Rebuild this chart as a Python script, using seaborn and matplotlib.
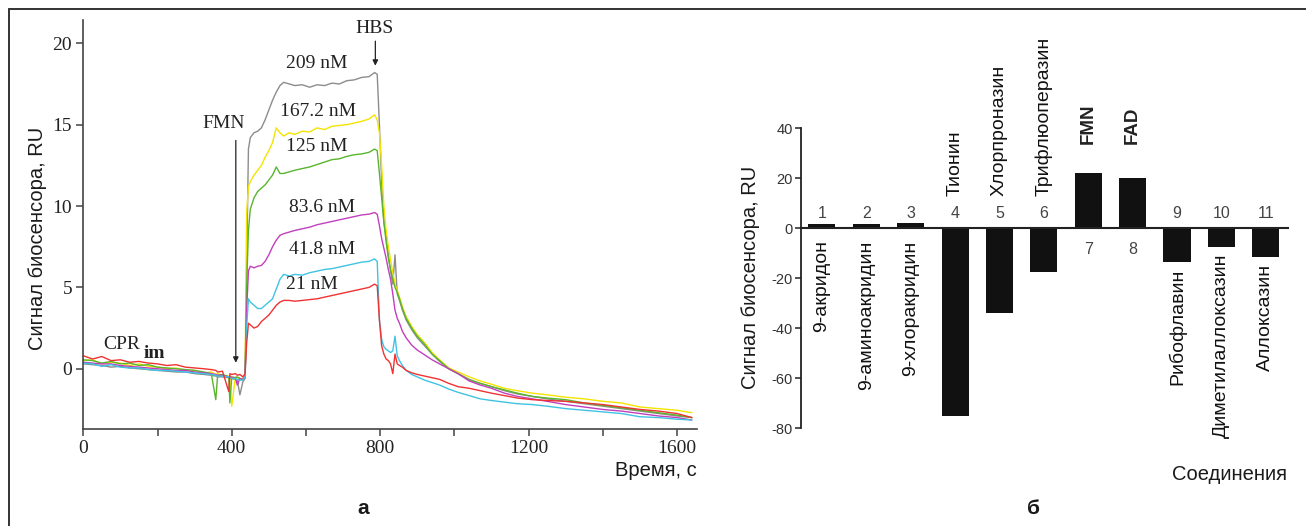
import matplotlib
matplotlib.use("Agg")
import matplotlib.pyplot as plt
import numpy as np
import pandas as pd
import seaborn as sns
from matplotlib.ticker import FixedLocator, NullFormatter
from matplotlib.lines import Line2D

# ---------------- data: panel a (sensorgrams) ----------------
time_s = [0, 25, 50, 75, 100, 125, 150, 175, 200, 225, 250, 275, 300, 325, 345, 357, 362, 375, 392, 395,
          400, 410, 415, 422, 430, 436,
          440, 445, 450, 460, 470, 480, 490, 500, 510, 520, 530, 540, 555, 570, 590, 610, 630, 650, 670, 690,
          710, 730, 750, 770, 785, 792,
          798, 804, 810, 816, 822, 828, 834, 840, 846, 852, 860, 870, 885, 900, 920, 940, 960, 985, 1010, 1040,
          1070, 1100, 1135, 1170, 1210, 1250, 1300, 1350, 1400, 1450, 1500, 1550, 1600, 1640]

ru_209nM = [0.3, 0.25, 0.2, 0.1, 0.15, 0.05, 0.0, -0.05, -0.1, -0.15, -0.2, -0.2, -0.3, -0.35, -0.4, -0.45, -0.5, -0.5, -0.55, -0.6,
            -0.6, -0.65, -0.7, -1.6, -0.8, -0.6,
            6.0, 13.5, 14.2, 14.5, 14.6, 14.8, 15.3, 15.9, 16.5, 17.0, 17.4, 17.6, 17.5, 17.4, 17.45, 17.3, 17.45, 17.4, 17.55, 17.5,
            17.7, 17.75, 17.9, 17.95, 18.2, 18.1,
            15.0, 11.5, 9.0, 8.2, 7.0, 6.0, 5.2, 7.0, 4.6, 4.2, 3.6, 3.0, 2.4, 1.9, 1.4, 0.9, 0.45, 0.0, -0.3, -0.65,
            -0.9, -1.1, -1.35, -1.55, -1.7, -1.85, -2.0, -2.15, -2.3, -2.45, -2.6, -2.75, -2.9, -3.0]

ru_167nM = [0.5, 0.55, 0.3, 0.4, 0.35, 0.2, 0.3, 0.15, 0.1, 0.0, 0.05, -0.1, -0.1, -0.25, -0.2, -0.35, -0.3, -0.4, -0.45, -0.6,
            -2.3, -0.5, -0.55, -0.6, -0.6, -0.4,
            9.5, 11.2, 11.5, 11.9, 12.2, 12.5, 13.0, 13.4, 13.9, 14.8, 14.5, 14.3, 14.5, 14.4, 14.6, 14.55, 14.8, 14.7, 14.9, 14.95,
            15.0, 15.1, 15.2, 15.35, 15.6, 15.3,
            14.5, 12.5, 10.0, 8.5, 7.5, 6.7, 5.9, 5.2, 4.8, 4.4, 3.8, 3.2, 2.6, 2.1, 1.6, 1.0, 0.55, 0.05, -0.2, -0.5,
            -0.75, -0.95, -1.2, -1.35, -1.5, -1.6, -1.75, -1.85, -2.0, -2.1, -2.35, -2.45, -2.55, -2.7]

ru_125nM = [0.55, 0.5, 0.35, 0.45, 0.3, 0.35, 0.2, 0.25, 0.1, 0.05, 0.0, -0.05, -0.1, -0.2, -0.3, -1.9, -0.4, -0.35, -0.5, -2.1,
            -0.5, -0.55, -0.5, -0.6, -0.65, -0.5,
            5.0, 8.5, 9.8, 10.5, 10.9, 11.1, 11.3, 11.6, 11.9, 12.4, 12.0, 12.0, 12.1, 12.2, 12.3, 12.4, 12.55, 12.7, 12.85, 12.9,
            13.05, 13.15, 13.2, 13.3, 13.5, 13.4,
            12.0, 10.5, 9.0, 7.8, 6.8, 6.1, 5.5, 5.0, 4.7, 4.3, 3.7, 3.1, 2.5, 2.0, 1.5, 0.9, 0.5, 0.0, -0.3, -0.7,
            -0.9, -1.1, -1.3, -1.5, -1.7, -1.8, -1.9, -2.1, -2.25, -2.4, -2.55, -2.7, -2.85, -3.0]

ru_83nM = [0.4, 0.35, 0.3, 0.3, 0.2, 0.15, 0.1, 0.05, 0.0, -0.05, -0.1, -0.1, -0.2, -0.25, -0.3, -0.35, -0.4, -0.4, -0.5, -0.45,
           -0.55, -0.6, -1.0, -0.6, -0.65, -0.5,
           3.5, 6.0, 6.3, 6.2, 6.3, 6.35, 6.6, 7.0, 7.5, 7.9, 8.2, 8.3, 8.4, 8.5, 8.6, 8.7, 8.85, 8.95, 9.05, 9.15,
           9.25, 9.35, 9.45, 9.5, 9.6, 9.5,
           8.8, 8.0, 7.4, 6.8, 6.1, 5.5, 4.6, 3.6, 3.1, 2.8, 2.3, 1.9, 1.45, 1.15, 0.85, 0.55, 0.3, 0.0, -0.3, -0.75,
           -1.0, -1.2, -1.5, -1.7, -1.85, -2.0, -2.2, -2.35, -2.5, -2.6, -2.75, -2.9, -3.0, -3.15]

ru_41nM = [0.35, 0.3, 0.15, 0.25, 0.1, 0.05, 0.05, -0.05, -0.1, -0.1, -0.15, -0.2, -0.25, -0.3, -0.35, -0.4, -0.45, -0.45, -0.5, -0.55,
           -0.6, -0.6, -0.65, -0.7, -0.7, -0.5,
           2.5, 4.3, 4.1, 3.9, 3.7, 3.7, 3.9, 4.1, 4.3, 4.9, 5.5, 5.8, 5.7, 5.8, 5.75, 5.9, 6.0, 6.1, 6.15, 6.25,
           6.35, 6.45, 6.55, 6.6, 6.75, 6.6,
           3.0, 1.8, 1.35, 1.2, 1.1, 1.0, 1.1, 2.0, 0.8, 0.5, 0.2, -0.1, -0.35, -0.5, -0.7, -0.85, -1.0, -1.25, -1.45, -1.65,
           -1.85, -1.95, -2.05, -2.15, -2.2, -2.3, -2.45, -2.55, -2.65, -2.75, -2.95, -3.0, -3.1, -3.15]

ru_21nM = [0.8, 0.6, 0.75, 0.5, 0.55, 0.4, 0.45, 0.35, 0.3, 0.2, 0.25, 0.1, 0.05, 0.0, -0.05, -0.1, -0.2, -0.15, -1.4, -0.3,
           -0.35, -0.3, -0.4, -0.35, -0.5, -0.3,
           1.5, 2.8, 2.7, 2.5, 2.6, 2.9, 3.1, 3.3, 3.6, 3.9, 4.1, 4.2, 4.2, 4.15, 4.2, 4.25, 4.3, 4.4, 4.5, 4.6,
           4.7, 4.8, 4.9, 5.0, 5.2, 5.1,
           3.0, 1.4, 0.9, 0.6, 0.5, 0.3, -0.3, 0.9, 0.3, 0.2, 0.1, -0.1, -0.25, -0.35, -0.45, -0.55, -0.65, -0.9, -1.1, -1.2,
           -1.35, -1.5, -1.65, -1.8, -1.9, -1.95, -2.0, -2.1, -2.2, -2.35, -2.5, -2.6, -2.75, -3.0]

concentrations = ["209 nM", "167.2 nM", "125 nM", "83.6 nM", "41.8 nM", "21 nM"]
series_values = [ru_209nM, ru_167nM, ru_125nM, ru_83nM, ru_41nM, ru_21nM]
curve_colors = ["#8c8c8c", "#f4e400", "#58b52c", "#c23fbd", "#3fc3e3", "#f03232"]

# ---------------- data: panel b (bar chart) ----------------
compound_numbers = ["1", "2", "3", "4", "5", "6", "7", "8", "9", "10", "11"]
compound_names = ["9-акридон", "9-аминоакридин", "9-хлоракридин", "Тионин", "Хлорпроназин",
                  "Трифлюоперазин", "FMN", "FAD", "Рибофлавин", "Диметилаллоксазин", "Аллоксазин"]
signal_ru = [1.8, 1.8, 2.2, -75.0, -34.0, -17.5, 22.0, 20.0, -13.6, -7.6, -11.5]

for s in series_values:
    assert len(s) == len(time_s)

# ---------------- style ----------------
sns.set_theme(style="white")
SANS = ["Liberation Sans", "DejaVu Sans"]
SERIF = ["Liberation Serif", "DejaVu Serif"]
plt.rcParams["font.family"] = SANS
plt.rcParams["axes.unicode_minus"] = False

W, H = 1306, 526
fig = plt.figure(figsize=(W / 100, H / 100), dpi=100)
fig.patch.set_facecolor("white")

def fx(px):
    return px / W

def fy(py):
    return 1 - py / H

# outer frame (top and left edges visible)
fig.add_artist(Line2D([fx(9), 1.0], [fy(9), fy(9)], color="#333333", lw=1.4, transform=fig.transFigure))
fig.add_artist(Line2D([fx(9), fx(9)], [fy(9), 0.0], color="#333333", lw=1.4, transform=fig.transFigure))

# ---------------- panel a ----------------
axL = fig.add_axes([fx(83.3), fy(429.3), fx(696.7 - 83.3), (429.3 - 20) / H])
long = pd.DataFrame({
    "time": np.tile(time_s, len(concentrations)),
    "ru": np.concatenate(series_values),
    "conc": np.repeat(concentrations, len(time_s)),
})
sns.lineplot(data=long, x="time", y="ru", hue="conc", hue_order=concentrations,
             palette=dict(zip(concentrations, curve_colors)), estimator=None, sort=False,
             legend=False, linewidth=1.0, ax=axL)
axL.set_xlim(0, 1653)
axL.set_ylim(-3.72, 21.43)
axL.set_xlabel("")
axL.set_ylabel("")
for side in ["top", "right"]:
    axL.spines[side].set_visible(False)
for side in ["left", "bottom"]:
    axL.spines[side].set_color("#444444")
    axL.spines[side].set_linewidth(1.2)
axL.xaxis.set_major_locator(FixedLocator([0, 400, 800, 1200, 1600]))
axL.xaxis.set_minor_locator(FixedLocator([200, 600, 1000, 1400]))
axL.xaxis.set_minor_formatter(NullFormatter())
axL.yaxis.set_major_locator(FixedLocator([0, 5, 10, 15, 20]))
axL.tick_params(axis="both", which="both", direction="out", length=5, width=1.1, color="#444444",
                bottom=True, left=True, labelsize=14, labelcolor="#222222", pad=3)
for lab in axL.get_xticklabels() + axL.get_yticklabels():
    lab.set_family(SERIF)

ann_kw = dict(family=SERIF, fontsize=14, color="#222222", ha="center", va="center")
conc_label_pos = [(630, 18.76), (633, 15.8), (630, 13.65), (643, 9.88), (643, 7.3), (615, 5.2)]
for lab, (x, y) in zip(concentrations, conc_label_pos):
    axL.text(x, y, lab, **ann_kw)
axL.text(784, 20.9, "HBS", clip_on=False, **ann_kw)
axL.annotate("", xy=(787, 18.45), xytext=(787, 20.3),
             arrowprops=dict(arrowstyle="-|>", color="#222222", lw=0.9, mutation_scale=8))
axL.text(379, 15.07, "FMN", **ann_kw)
axL.annotate("", xy=(411, 0.2), xytext=(411, 14.2),
             arrowprops=dict(arrowstyle="-|>", color="#222222", lw=0.9, mutation_scale=8))
axL.text(53, 1.46, "CPR", family=SERIF, fontsize=14, color="#222222", ha="left", va="center")
axL.text(163, 0.95, "im", family=SERIF, fontsize=14, fontweight="bold", color="#222222", ha="left", va="center")

fig.text(fx(38), fy(238), "Сигнал биосенсора, RU", rotation=90, ha="center", va="center",
         fontsize=14.5, color="#1a1a1a")
fig.text(fx(697), fy(471), "Время, с", ha="right", va="center", fontsize=14.5, color="#1a1a1a")
fig.text(fx(363), fy(508), "а", ha="center", va="center", fontsize=15, fontweight="bold", color="#1a1a1a")

# ---------------- panel b ----------------
axR = fig.add_axes([fx(801), fy(428), fx(1288 - 801), (428 - 128) / H])
bars = pd.DataFrame({"num": compound_numbers, "ru": signal_ru})
sns.barplot(data=bars, x="num", y="ru", order=compound_numbers, color="#111111", saturation=1,
            width=0.61, linewidth=0, ax=axR)
axR.set_xlim(-0.47, 10.5)
axR.set_ylim(-80, 40)
axR.set_xlabel("")
axR.set_ylabel("")
axR.spines["top"].set_visible(False)
axR.spines["right"].set_visible(False)
axR.spines["bottom"].set_position(("data", 0))
axR.spines["bottom"].set_color("#222222")
axR.spines["bottom"].set_linewidth(1.5)
axR.spines["left"].set_color("#222222")
axR.spines["left"].set_linewidth(1.3)
axR.set_xticks([])
axR.yaxis.set_major_locator(FixedLocator([-80, -60, -40, -20, 0, 20, 40]))
axR.tick_params(axis="y", direction="out", length=4, width=1.1, color="#222222", left=True,
                labelsize=10.5, labelcolor="#333333", pad=2)

name_style = ["below", "below", "below", "above", "above", "above", "top", "top",
              "under_bar", "under_bar", "under_bar"]
for i, (num, name, val, st) in enumerate(zip(compound_numbers, compound_names, signal_ru, name_style)):
    num_y = -8.4 if st == "top" else 6.0
    axR.text(i, num_y, num, ha="center", va="center", fontsize=11.5, color="#444444")
    if st == "below":
        axR.text(i, -5.0, name, rotation=90, ha="center", va="top", fontsize=14, color="#111111", clip_on=False)
    elif st == "above":
        axR.text(i, 12.8, name, rotation=90, ha="center", va="bottom", fontsize=14, color="#111111", clip_on=False)
    elif st == "top":
        axR.text(i, 33.6, name, rotation=90, ha="center", va="bottom", fontsize=13.5, fontweight="bold",
                 color="#222222", clip_on=False)
    else:
        axR.text(i, min(val, 0) - 2.8, name, rotation=90, ha="center", va="top", fontsize=14,
                 color="#111111", clip_on=False)

fig.text(fx(750), fy(277), "Сигнал биосенсора, RU", rotation=90, ha="center", va="center",
         fontsize=14.5, color="#1a1a1a")
fig.text(fx(1287), fy(474), "Соединения", ha="right", va="center", fontsize=14.5, color="#1a1a1a")
fig.text(fx(1033), fy(508), "б", ha="center", va="center", fontsize=15, fontweight="bold", color="#1a1a1a")

fig.savefig("out.png", dpi=100, facecolor="white")
